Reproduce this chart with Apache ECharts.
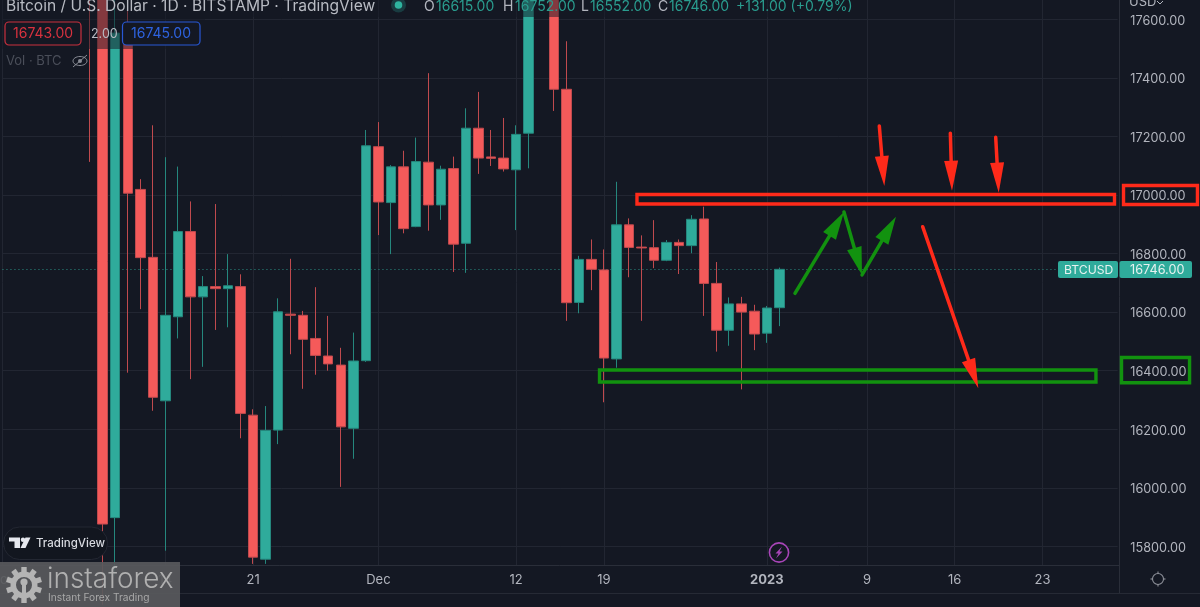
<!DOCTYPE html>
<html><head><meta charset="utf-8">
<style>html,body{margin:0;padding:0;background:#141823;overflow:hidden}#c{width:1200px;height:607px}</style>
<script src="https://cdn.jsdelivr.net/npm/echarts@6/dist/echarts.min.js"></script>
</head><body><div id="c"></div>
<script>
// Days counted from 1 Nov 2022 (=0); first drawn candle is 8 Nov 2022.
const firstDay = 7;
const dayCount = 90;
const opens  = [18000,18000,15898,17516,17019,16787,16297,16584,16875,16652,16687,16680,16687,16248,15756,16197,16593,16589,16510,16450,16419,16203,16434,17165,16974,17096,16892,17112,16966,17090,16835,17228,17130,17126,17086,17211,17780,17800,17361,16633,16780,16744,16440,16898,16822,16820,16777,16838,16827,16918,16698,16538,16628,16603,16528,16615];
const highs  = [18100,18100,17900,17720,17054,17238,17129,17097,16978,16723,16969,16798,16729,16268,16279,16647,16782,16604,16685,16587,16478,16530,17222,17249,17102,17151,17196,17416,17100,17131,17296,17352,17222,17263,17238,18000,18000,18000,17525,16792,16848,16814,17045,16920,16862,16914,16846,16848,16931,16960,16771,16650,16652,16625,16621,16752];
const lows   = [17113,15600,15700,16393,16610,16263,15785,16510,16371,16413,16539,16548,16169,15740,15740,16149,16456,16338,16386,16400,16003,16099,16430,16863,16798,16869,16890,16878,16915,16737,16734,17072,17099,17080,16880,17091,17690,17287,16570,16596,16675,16292,16410,16719,16570,16750,16774,16730,16801,16587,16465,16485,16336,16470,16495,16552];
const closes = [17700,15876,17553,17006,16786,16309,16589,16875,16652,16687,16680,16690,16254,15763,16196,16601,16589,16507,16452,16423,16208,16433,17168,16976,17096,16885,17114,16966,17088,16832,17228,17126,17125,17089,17207,17790,17810,17361,16632,16780,16746,16443,16898,16821,16819,16777,16838,16827,16917,16698,16538,16628,16600,16525,16614,16746];

const priceTicks = [15800,16000,16200,16400,16600,16800,17000,17200,17400,17600];
const timeTicks  = [0,13,20,30,41,48,61,69,76,83];
const timeLabels = ['Nov','14','21','Dec','12','19','2023','9','16','23'];
const lastPrice  = 16746;

// Hand-drawn zones: [dayFrom, priceTop, dayTo, priceBottom]
const redZones   = [[50.64,17001.6,88.75,16969.2],[89.47,17032.3,95.37,16967.4]];
const greenZones = [[47.65,16402,87.27,16361],[89.31,16444.9,94.74,16358.5]];
// Hand-drawn arrows: [dayFrom, priceFrom, dayTo, priceTo]
const redArrows  = [[69.98,17235.6,70.38,17030.7],[75.65,17210.7,75.78,17014.6],[79.27,17197,79.51,17007.8],[73.44,16891.7,77.88,16339.7]];
const greenArrows= [[63.25,16664,67.16,16941.9],[67.16,16941.9,68.60,16726.7],[68.60,16726.7,71.31,16925.8]];

const BG='#141823', GRID='#222632', TXT='#b2b5be', UP='#2fab9b', DOWN='#f55a5a', RED='#ff2a1a', GREEN='#12920f', FONT='Inter, "Noto Sans", sans-serif';
const dayNames = Array.from({length:dayCount},(_,i)=>{const k=timeTicks.indexOf(i);return k<0?String(i):timeLabels[k];});
const candles = Array.from({length:firstDay},()=>['-','-','-','-']).concat(opens.map((o,i)=>[o,closes[i],lows[i],highs[i]]));

function zoneItem(color){return function(p,api){
  const a=api.coord([api.value(0),api.value(1)]), b=api.coord([api.value(2),api.value(3)]);
  return {type:'rect',shape:{x:a[0],y:a[1],width:b[0]-a[0],height:b[1]-a[1]},style:{fill:'none',stroke:color,lineWidth:3.4}};
};}
function arrowItem(color,w,headLen,headW){return function(p,api){
  const a=api.coord([api.value(0),api.value(1)]), b=api.coord([api.value(2),api.value(3)]);
  const dx=b[0]-a[0],dy=b[1]-a[1],L=Math.hypot(dx,dy),ux=dx/L,uy=dy/L;
  const bx=b[0]-ux*headLen,by=b[1]-uy*headLen;
  return {type:'group',children:[
    {type:'line',shape:{x1:a[0],y1:a[1],x2:bx,y2:by},style:{stroke:color,lineWidth:w,lineCap:'round'}},
    {type:'polygon',shape:{points:[[b[0],b[1]],[bx-uy*headW/2,by+ux*headW/2],[bx+uy*headW/2,by-ux*headW/2]]},style:{fill:color}}
  ]};
};}
function customSeries(name,data,render){return {name,type:'custom',xAxisIndex:1,data,renderItem:render,clip:false,silent:true,z:20,encode:{x:[0,2],y:[1,3]},animation:false};}

function gearChildren(cx,cy){
  const c0='#b4b4b4';
  const out=[{type:'ring',shape:{cx,cy,r:13.5,r0:8},style:{fill:c0}}];
  for(let i=0;i<10;i++){const a=i*Math.PI/5;out.push({type:'rect',x:cx,y:cy,rotation:a,shape:{x:-2.7,y:-18,width:5.4,height:6},style:{fill:c0}});}
  out.push({type:'circle',shape:{cx,cy:cy-3,r:3.6},style:{fill:c0}});
  out.push({type:'rect',shape:{x:cx-2,y:cy,width:4,height:16},style:{fill:c0}});
  return out;
}
const t=(text,x,y,fill,size,extra)=>({type:'text',z:40,x,y,style:Object.assign({text,fill,font:(extra&&extra.weight||400)+' '+size+'px '+FONT,verticalAlign:'middle',align:'left'},extra&&extra.style||{})});
const r=(x,y,w,h,fill,extra)=>({type:'rect',z:30,shape:{x,y,width:w,height:h,r:extra&&extra.r||0},style:Object.assign({fill},extra&&extra.style||{})});

const G='#2a9d8f';
const chrome=[
  r(0,0,850,17,'rgba(20,24,35,0.5)'),
  r(0,17,205,32,'rgba(20,24,35,0.5)'),
  t('Bitcoin / U.S. Dollar · 1D · BITSTAMP · TradingView',6,6.5,'#b8bbc3',15.6),
  {type:'circle',z:40,shape:{cx:398.5,cy:5,r:7.5},style:{fill:'rgba(38,166,154,0.25)'}},
  {type:'circle',z:41,shape:{cx:398.5,cy:5,r:3.8},style:{fill:'#2fb39f'}},
  t('O',424,7,TXT,14),t('16615.00',436,7,G,14),
  t('H',503,7,TXT,14),t('16752.00',515,7,G,14),
  t('L',581,7,TXT,14),t('16552.00',590,7,G,14),
  t('C',658,7,TXT,14),t('16746.00',669,7,G,14),
  t('+131.00 (+0.79%)',736,7,G,14),
  r(5,22,76,23,'#141823',{r:4,style:{stroke:'#c9303e',lineWidth:1.2}}),
  t('16743.00',13,34,'#d8323f',14),
  t('2.00',91,34,'#b8bbc3',12.5),
  r(122.5,22,77.5,23,'#141823',{r:4,style:{stroke:'#2858d6',lineWidth:1.2}}),
  t('16745.00',131,34,'#2e63e0',14),
  t('Vol · BTC',6,61,'#4a4e59',13),
  {type:'ellipse',z:40,shape:{cx:80,cy:61,rx:7,ry:4.5},style:{fill:'none',stroke:'#8a8d96',lineWidth:1}},
  {type:'circle',z:40,shape:{cx:80,cy:61,r:2},style:{fill:'#8a8d96'}},
  {type:'line',z:40,shape:{x1:73,y1:67,x2:87,y2:55},style:{stroke:'#8a8d96',lineWidth:1}},
  t('USD',1129,2,TXT,13),
  {type:'polyline',z:40,shape:{points:[[1157,1],[1160,4],[1163,1]]},style:{stroke:TXT,fill:'none',lineWidth:1}},
  r(1058,261,60,17,UP,{r:2}),r(1119.5,261,72.5,17,UP,{r:2}),
  t('BTCUSD',1064,270,'#e6f2f0',12.2),t('16746.00',1130,270,'#e6f2f0',12.7),
  {type:'line',z:5,shape:{x1:0,y1:565.5,x2:1119.5,y2:565.5},style:{stroke:'#2a2e39',lineWidth:1}},
  {type:'line',z:5,shape:{x1:0,y1:593.5,x2:1200,y2:593.5},style:{stroke:'#262a35',lineWidth:1}},
  {type:'line',z:5,shape:{x1:1119.5,y1:0,x2:1119.5,y2:593},style:{stroke:'#2a2e39',lineWidth:1}},
  {type:'circle',z:30,shape:{cx:1158,cy:579,r:5.5},style:{fill:'none',stroke:'#8f929b',lineWidth:1.1}},
  {type:'polyline',z:30,shape:{points:[[1158,571.5],[1158,573.5]]},style:{stroke:'#8f929b',lineWidth:1.1}},
  {type:'polyline',z:30,shape:{points:[[1158,584.5],[1158,586.5]]},style:{stroke:'#8f929b',lineWidth:1.1}},
  {type:'polyline',z:30,shape:{points:[[1150.5,579],[1152.5,579]]},style:{stroke:'#8f929b',lineWidth:1.1}},
  {type:'polyline',z:30,shape:{points:[[1163.5,579],[1165.5,579]]},style:{stroke:'#8f929b',lineWidth:1.1}},
  {type:'circle',z:30,shape:{cx:779,cy:552.5,r:9.6},style:{fill:'#141823',stroke:'#a845b8',lineWidth:1.6}},
  {type:'polygon',z:31,shape:{points:[[782,546.5],[775.5,553.5],[778.5,553.5],[776,558.5],[782.5,551.5],[779.5,551.5]]},style:{fill:'#a845b8'}},
  r(3.5,527,104,32.5,'#12161f',{r:16,style:{stroke:'#232732',lineWidth:1}}),
  {type:'polygon',z:40,shape:{points:[[9,537.5],[20,537.5],[20,548],[14.5,548],[14.5,541.5],[9,541.5]]},style:{fill:'#e6e8ee'}},
  {type:'circle',z:40,shape:{cx:23,cy:539.8,r:2.2},style:{fill:'#e6e8ee'}},
  {type:'polygon',z:40,shape:{points:[[25.5,537.5],[30.5,537.5],[25.5,548],[20.5,548]]},style:{fill:'#e6e8ee'}},
  t('TradingView',36,543.5,'#d8dae0',11.5,{weight:500}),
  r(0,562,180,45,'rgba(88,89,93,0.93)'),
  {type:'group',z:40,children:gearChildren(24,585).map(c=>Object.assign(c,{z:40}))},
  t('instaforex',47,579.5,'#b0b0b0',27.9,{weight:300}),
  t('Instant Forex Trading',48,598,'#a8a8a8',10.2)
];
const isTick=i=>timeTicks.indexOf(i)>=0;

const chart=echarts.init(document.getElementById('c'),null,{renderer:'canvas'});
chart.setOption({
  animation:false,backgroundColor:BG,
  grid:{left:2.46,width:1115.17,top:0,height:565,show:false,outerBoundsMode:'none'},
  xAxis:[
   {type:'category',data:dayNames,boundaryGap:false,
    axisLine:{show:false},axisTick:{show:false},
    splitLine:{show:true,interval:i=>isTick(i),lineStyle:{color:GRID,width:1}},
    axisLabel:{interval:i=>isTick(i),color:TXT,fontSize:13,fontFamily:FONT,margin:9,hideOverlap:false,
      formatter:s=>s==='2023'?'{b|2023}':s,
      rich:{b:{fontWeight:700,fontSize:13,color:TXT,fontFamily:FONT}}}},
   {type:'value',min:0,max:dayCount-1,show:false,splitLine:{show:false}}
  ],
  yAxis:{type:'value',position:'right',min:15736.2,max:17665.9,scale:true,
    axisLine:{show:false},axisTick:{show:false,customValues:priceTicks},
    splitLine:{show:true,lineStyle:{color:GRID,width:1}},
    axisLabel:{customValues:priceTicks,color:TXT,fontFamily:FONT,margin:12.7,formatter:v=>'{p|'+v.toFixed(2)+'}',
      rich:{p:{color:TXT,fontSize:12.7,fontFamily:FONT,padding:[3,0,0,0]}}}},
  series:[
    {name:'BTCUSD',type:'candlestick',data:candles,barWidth:10,z:10,
     itemStyle:{color:UP,color0:DOWN,borderColor:'#25877d',borderColor0:'#c04a4e',borderWidth:1},
     markLine:{silent:true,symbol:'none',animation:false,label:{show:false},lineStyle:{color:'#2a8f84',type:[1,3],width:1},data:[{yAxis:lastPrice}]}},
    customSeries('Resistance zone',redZones,zoneItem(RED)),
    customSeries('Support zone',greenZones,zoneItem(GREEN)),
    customSeries('Short scenario',redArrows,arrowItem(RED,3.5,30,14)),
    customSeries('Long scenario',greenArrows,arrowItem(GREEN,3.5,28,15))
  ],
  graphic:{elements:chrome}
});
</script></body></html>
